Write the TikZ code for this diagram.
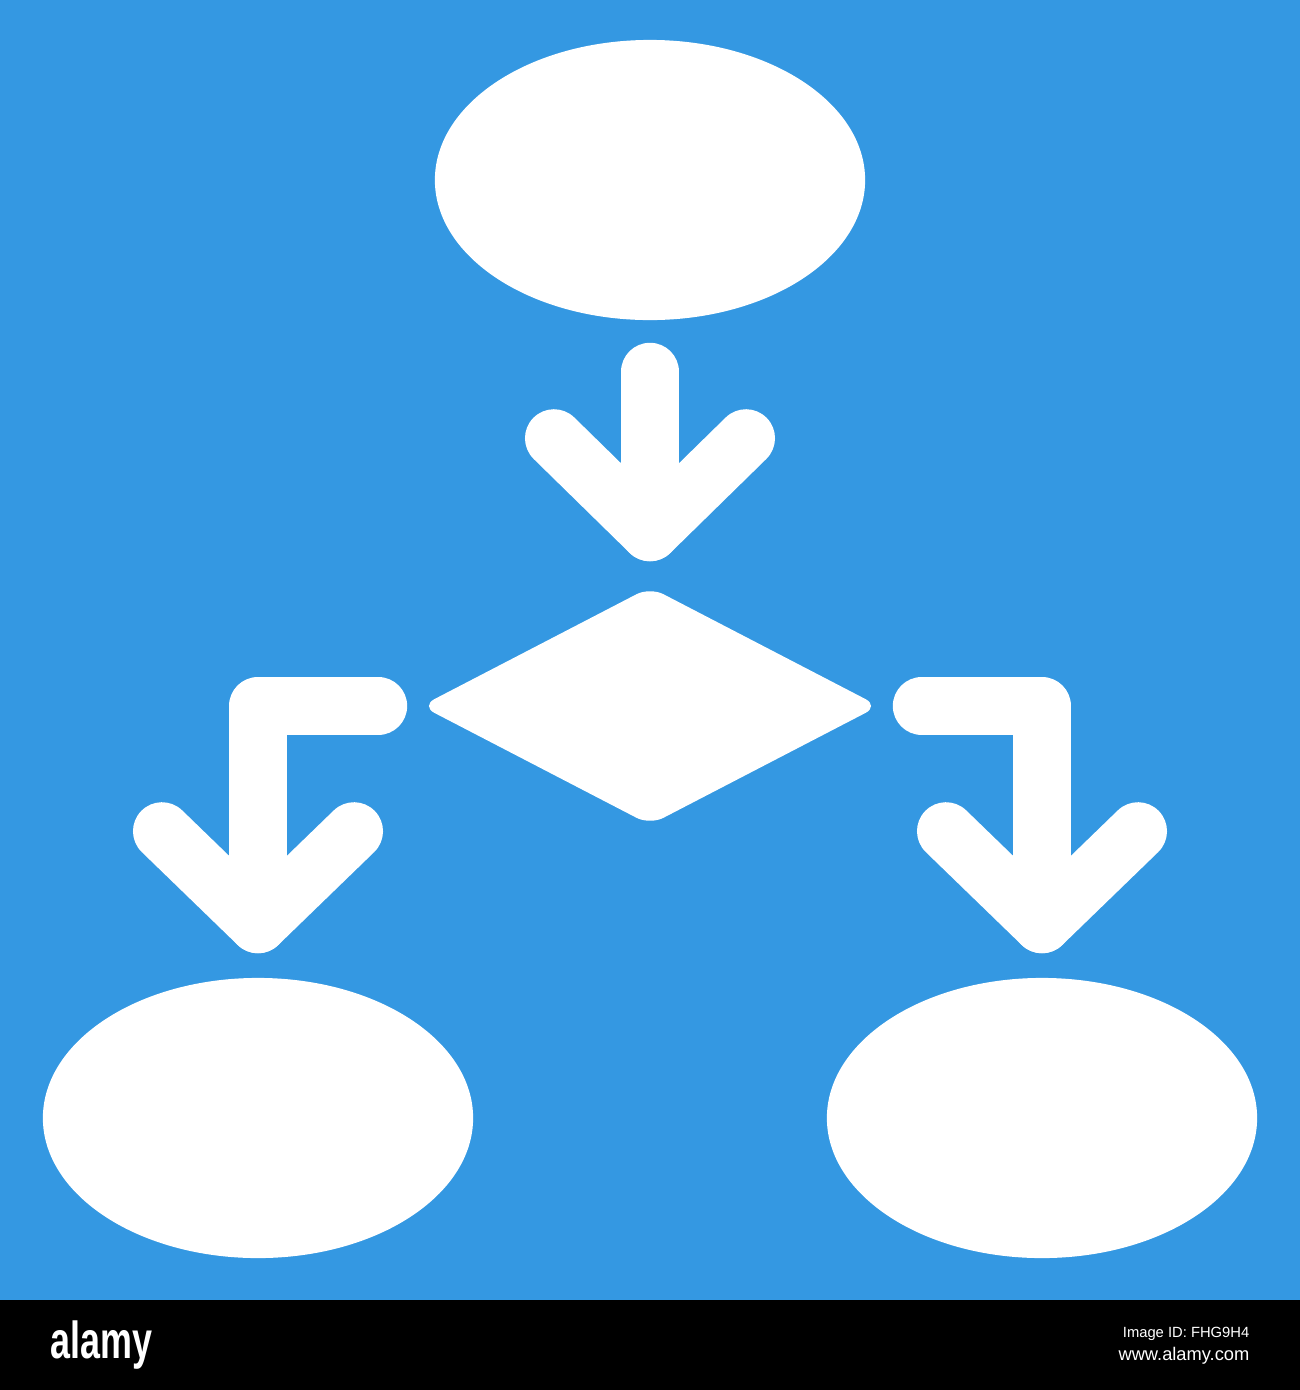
\documentclass[tikz,border=0pt]{standalone}
\usepackage{graphicx}
\usepackage{fontspec}
\setmainfont{Liberation Sans}
\usetikzlibrary{shapes.geometric,calc}
\definecolor{skyblue}{RGB}{52,152,226}
\tikzset{
  terminal/.style={ellipse, fill=white, minimum width=4.3cm, minimum height=2.8cm, inner sep=0pt},
  decision/.style={diamond, fill=white, minimum width=4.58cm, minimum height=2.38cm, inner sep=0pt, rounded corners=1.5mm},
  flow/.style={draw=white, line width=5.8mm, line cap=round, line join=round},
}
\begin{document}
\begin{tikzpicture}[x=0.01cm, y=-0.01cm]
    \useasboundingbox (0,0) rectangle (1300,1390);
    \fill[skyblue] (0,0) rectangle (1300,1300);
    \fill[black] (0,1300) rectangle (1300,1390);
    \node[terminal] (start) at (650,180) {};
    \node[decision] (choice) at (650,706) {};
    \node[terminal] (yes) at (258,1118) {};
    \node[terminal] (no) at (1042,1118) {};
    % arrows
    \draw[flow] ($(start.south)+(0,51)$) -- ($(choice.north)+(0,-54)$) coordinate (tipA);
    \draw[flow] ($(tipA)+(-96,-94)$) -- (tipA) -- ($(tipA)+(96,-94)$);
    \draw[flow] ($(choice.west)+(-42,0)$) -- (yes.north |- choice.west) -- ($(yes.north)+(0,-53)$) coordinate (tipB);
    \draw[flow] ($(tipB)+(-96,-93)$) -- (tipB) -- ($(tipB)+(96,-93)$);
    \draw[flow] ($(choice.east)+(42,0)$) -- (no.north |- choice.east) -- ($(no.north)+(0,-53)$) coordinate (tipC);
    \draw[flow] ($(tipC)+(-96,-93)$) -- (tipC) -- ($(tipC)+(96,-93)$);
    % footer
    \node[text=white, inner sep=0pt, anchor=base west] (logo) at (50,1358)
      {\fontsize{14.8}{15}\selectfont\bfseries\scalebox{0.69}[1]{alamy}};
    \node[text=white, inner sep=0pt, anchor=base east] (imgid) at (1250,1337)
      {\fontsize{4.2}{5}\selectfont Image ID: FHG9H4};
    \node[text=white, inner sep=0pt, anchor=base east] (site) at (1250,1360)
      {\fontsize{5.2}{6}\selectfont www.alamy.com};
\end{tikzpicture}
\end{document}
